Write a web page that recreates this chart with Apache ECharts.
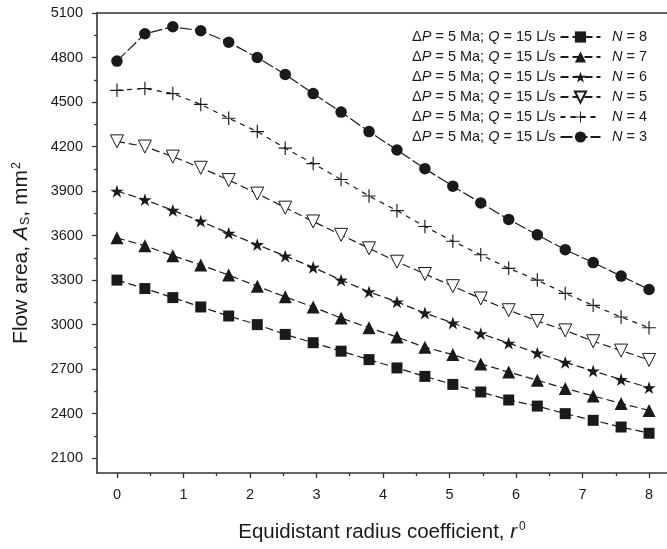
<!DOCTYPE html>
<html>
<head>
<meta charset="utf-8">
<script src="https://cdn.jsdelivr.net/npm/echarts@6/dist/echarts.min.js"></script>
<style>html,body{margin:0;padding:0;background:#fff}#c{width:667px;height:549px}</style>
</head>
<body>
<div id="c"></div>
<script>
// r0 values (x)
var rValues = [0, 0.42, 0.84, 1.26, 1.68, 2.11, 2.53, 2.95, 3.37, 3.79, 4.21, 4.63, 5.05, 5.47, 5.89, 6.32, 6.74, 7.16, 7.58, 8.0];
// Flow area A_S (mm^2) per number of nozzles N
var n8 = [3300, 3243, 3182, 3119, 3058, 3000, 2934, 2878, 2821, 2764, 2708, 2651, 2597, 2546, 2492, 2451, 2400, 2355, 2310, 2268];
var n7 = [3585, 3532, 3464, 3402, 3334, 3259, 3187, 3119, 3044, 2979, 2916, 2848, 2798, 2735, 2680, 2625, 2570, 2519, 2469, 2422];
var n6 = [3899, 3842, 3770, 3697, 3616, 3539, 3462, 3386, 3300, 3221, 3153, 3078, 3011, 2939, 2875, 2808, 2746, 2688, 2630, 2575];
var n5 = [4235, 4200, 4132, 4057, 3974, 3883, 3788, 3695, 3605, 3514, 3424, 3341, 3259, 3176, 3097, 3024, 2961, 2888, 2825, 2762];
var n4 = [4579, 4591, 4557, 4484, 4391, 4301, 4189, 4085, 3978, 3867, 3768, 3661, 3562, 3471, 3379, 3300, 3210, 3130, 3051, 2979];
var n3 = [4776, 4960, 5007, 4980, 4903, 4800, 4686, 4557, 4432, 4301, 4177, 4051, 3933, 3820, 3709, 3605, 3505, 3418, 3327, 3237];
var seriesNames = ['N = 8', 'N = 7', 'N = 6', 'N = 5', 'N = 4', 'N = 3'];
var xTickLabels = [0, 1, 2, 3, 4, 5, 6, 7, 8];
var xMinorTicks = [0.5, 1.5, 2.5, 3.5, 4.5, 5.5, 6.5, 7.5];
var yTickLabels = [2100, 2400, 2700, 3000, 3300, 3600, 3900, 4200, 4500, 4800, 5100];
var yMinorTicks = [2250, 2550, 2850, 3150, 3450, 3750, 4050, 4350, 4650, 4950];

function pairs(ys) { return ys.map(function (v, i) { return [rValues[i], v]; }); }

var FONT = 'Liberation Sans, Arial, Helvetica, sans-serif';
var INK = '#1a1a1a';
var STAR = 'path://M50,0 L61.2,34.5 L97.6,34.5 L68.2,55.9 L79.4,90.5 L50,69.1 L20.6,90.5 L31.8,55.9 L2.4,34.5 L38.8,34.5 Z';
var CROSS = 'path://M6.4,0 H7.6 V6.4 H14 V7.6 H7.6 V14 H6.4 V7.6 H0 V6.4 H6.4 Z';

function mk(name, data, symbol, size, opts) {
  opts = opts || {};
  return {
    name: name, type: 'line', data: pairs(data),
    xAxisIndex: 0, yAxisIndex: 0,
    symbol: symbol, symbolSize: size, symbolKeepAspect: true,
    symbolRotate: opts.rotate || 0,
    showAllSymbol: true,
    lineStyle: { color: INK, width: 1.2, type: opts.dash || [8, 4] },
    itemStyle: { color: opts.fill || INK, borderColor: INK, borderWidth: opts.bw || 0 },
    emphasis: { disabled: true },
    z: 3
  };
}

var XMIN = -0.3, XMAX = 8.27, YMIN = 2000, YMAX = 5100;
var tickStyle = { color: '#333', width: 1.3 };
var axisLineStyle = { color: '#333', width: 1.6 };
var plain = function (v) { return String(v); };
var legendRich = {
  n: { fontSize: 14.5, color: INK, fontFamily: FONT, lineHeight: 14 },
  i: { fontSize: 14.5, color: INK, fontStyle: 'italic', fontFamily: FONT, lineHeight: 14 }
};

var chart = echarts.init(document.getElementById('c'), null, { renderer: 'canvas' });
chart.setOption({
  animation: false,
  backgroundColor: '#fff',
  textStyle: { fontFamily: FONT },
  grid: { left: 97, right: 0, top: 13, bottom: 76 },
  legend: {
    orient: 'vertical', left: 412, top: 29.5, align: 'right', padding: 0,
    itemWidth: 40, itemHeight: 14, itemGap: 5,
    selectedMode: false,
    data: seriesNames,
    formatter: function () { return '{n|\u0394}{i|P}{n| = 5 Ma; }{i|Q}{n| = 15 L/s}'; },
    textStyle: { fontFamily: FONT, fontSize: 14.5, color: INK, lineHeight: 14, rich: legendRich }
  },
  graphic: seriesNames.map(function (nm, i) {
    return {
      type: 'text', x: 612, y: 37 + i * 20,
      style: {
        text: '{i|N}{n|' + nm.slice(1) + '}',
        verticalAlign: 'middle',
        rich: { n: { fontSize: 14.5, fill: INK, fontFamily: FONT, lineHeight: 14 }, i: { fontSize: 14.5, fill: INK, fontStyle: 'italic', fontFamily: FONT, lineHeight: 14 } }
      }
    };
  }).concat([{
    type: 'text', x: 21, y: 253, rotation: Math.PI / 2,
    style: {
      text: '{n|Flow area, }{i|A}{b|S}{n|, mm}{s|2}',
      align: 'center', verticalAlign: 'middle',
      rich: {
        n: { fontSize: 21, fill: INK, fontFamily: FONT },
        i: { fontSize: 21, fill: INK, fontStyle: 'italic', fontFamily: FONT },
        b: { fontSize: 12.5, fill: INK, fontFamily: FONT, verticalAlign: 'bottom', padding: [8, 0, 0, 1] },
        s: { fontSize: 12.5, fill: INK, fontFamily: FONT, verticalAlign: 'top', padding: [0, 0, 9, 1] }
      }
    }
  }]),
  xAxis: [{
    type: 'value', min: XMIN, max: XMAX, position: 'bottom',
    splitLine: { show: false },
    axisLine: { show: true, lineStyle: axisLineStyle, onZero: false },
    axisTick: { show: true, inside: false, length: 5, lineStyle: tickStyle, customValues: xTickLabels },
    axisLabel: { show: true, customValues: xTickLabels, formatter: plain, fontSize: 14.5, color: INK, margin: 14, fontFamily: FONT },
    name: '{n|Equidistant radius coefficient, }{i|r}{s|0}',
    nameLocation: 'middle', nameGap: 48,
    nameTextStyle: {
      rich: {
        n: { fontSize: 20.5, color: INK, fontFamily: FONT },
        i: { fontSize: 20.5, color: INK, fontStyle: 'italic', fontFamily: FONT },
        s: { fontSize: 12, color: INK, fontFamily: FONT, verticalAlign: 'top', padding: [0, 0, 10, 2] }
      }
    }
  }, {
    type: 'value', min: XMIN, max: XMAX, position: 'bottom',
    axisLine: { show: false, onZero: false }, splitLine: { show: false }, axisLabel: { show: false },
    axisTick: { show: true, inside: false, length: 3, lineStyle: tickStyle, customValues: xMinorTicks }
  }, {
    type: 'value', min: XMIN, max: XMAX, position: 'top',
    axisLine: { show: true, lineStyle: axisLineStyle, onZero: false },
    axisTick: { show: false }, axisLabel: { show: false }, splitLine: { show: false }
  }],
  yAxis: [{
    type: 'value', min: YMIN, max: YMAX, position: 'left',
    splitLine: { show: false },
    axisLine: { show: true, lineStyle: axisLineStyle, onZero: false },
    axisTick: { show: true, inside: false, length: 5, lineStyle: tickStyle, customValues: yTickLabels },
    axisLabel: { show: true, customValues: yTickLabels, formatter: plain, fontSize: 14.5, color: INK, margin: 14, fontFamily: FONT }
  }, {
    type: 'value', min: YMIN, max: YMAX, position: 'left',
    axisLine: { show: false, onZero: false }, splitLine: { show: false }, axisLabel: { show: false },
    axisTick: { show: true, inside: false, length: 3, lineStyle: tickStyle, customValues: yMinorTicks }
  }],
  series: [
    mk('N = 8', n8, 'rect', 11),
    mk('N = 7', n7, 'triangle', 13),
    mk('N = 6', n6, STAR, 13.5),
    mk('N = 5', n5, 'triangle', 13, { rotate: 180, fill: '#fff', bw: 1 }),
    mk('N = 4', n4, CROSS, 13.5, { dash: [5, 5] }),
    mk('N = 3', n3, 'circle', 11.5, { dash: [12, 3] })
  ]
});
</script>
</body>
</html>
